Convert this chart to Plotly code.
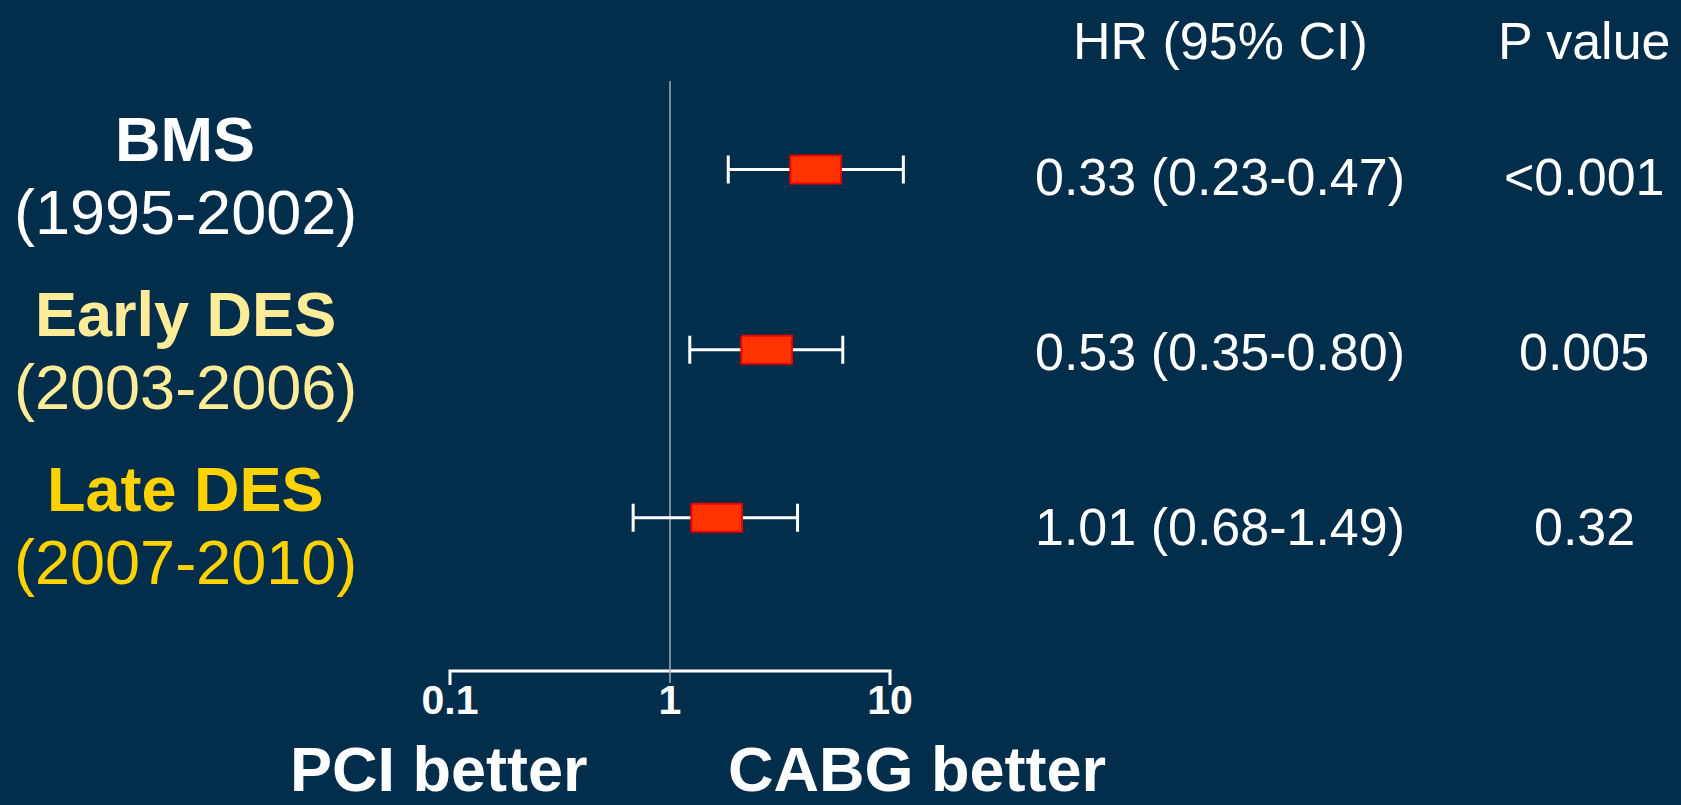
import numpy as np
import plotly.graph_objects as go

# ---------------- data ----------------
groups = ["BMS", "Early DES", "Late DES"]
periods = ["(1995-2002)", "(2003-2006)", "(2007-2010)"]
group_colors = ["#FFFFFF", "#FFEC99", "#FFD200"]
hr_text = ["0.33 (0.23-0.47)", "0.53 (0.35-0.80)", "1.01 (0.68-1.49)"]
p_text = ["<0.001", "0.005", "0.32"]
# positions of the plotted marks as drawn on the slide (log scale)
est = [4.59, 2.75, 1.63]
ci_lo = [1.84, 1.23, 0.68]
ci_hi = [11.5, 6.1, 3.8]
rows = [1, 2, 3]
marker_rows = [0.96, 1.99, 2.95]
tick_vals = [0.1, 1, 10]
tick_labels = ["0.1", "1", "10"]

# ---------------- style ----------------
BG = "#022E4C"
FONT = "Liberation Sans, Arial, Helvetica, sans-serif"
W, H = 1681, 805
BOX_HALF_LOG = 0.115
BOX_HALF_H = 0.08

est_a = np.array(est)
lo_a = np.array(ci_lo)
hi_a = np.array(ci_hi)

fig = go.Figure()

# axis bracket
AX_Y = 3.826
TICK_Y = 3.906
fig.add_trace(go.Scatter(
    x=[tick_vals[0], tick_vals[0], tick_vals[-1], tick_vals[-1]],
    y=[TICK_Y, AX_Y, AX_Y, TICK_Y],
    mode="lines", line=dict(color="white", width=3),
    hoverinfo="skip", showlegend=False))

# reference line at HR = 1
fig.add_trace(go.Scatter(
    x=[1, 1], y=[0.454, 3.894], mode="lines",
    line=dict(color="#A3ABB3", width=1.5),
    hoverinfo="skip", showlegend=False))

# whiskers
fig.add_trace(go.Scatter(
    x=est_a, y=marker_rows, mode="markers",
    marker=dict(size=1, color="rgba(0,0,0,0)"),
    error_x=dict(type="data", symmetric=False,
                 array=hi_a - est_a, arrayminus=est_a - lo_a,
                 color="white", thickness=3, width=14),
    hoverinfo="skip", showlegend=False))

# boxes
for e, r in zip(est, marker_rows):
    bl = e * 10 ** (-BOX_HALF_LOG)
    bh = e * 10 ** (BOX_HALF_LOG)
    fig.add_trace(go.Scatter(
        x=[bl, bh, bh, bl, bl],
        y=[r - BOX_HALF_H, r - BOX_HALF_H, r + BOX_HALF_H, r + BOX_HALF_H, r - BOX_HALF_H],
        mode="lines", fill="toself", fillcolor="#FF3300",
        line=dict(color="#F00000", width=2),
        hoverinfo="skip", showlegend=False))

# tick labels
fig.add_trace(go.Scatter(
    x=tick_vals, y=[4.01] * len(tick_vals), mode="text",
    text=tick_labels, textposition="middle center",
    textfont=dict(family=FONT, size=41, color="white", weight="bold"),
    hoverinfo="skip", showlegend=False, cliponaxis=False))

annotations = []
def ann(text, x, y, size, color="white", yref="y", yanchor="middle"):
    annotations.append(dict(text=text, x=x, y=y, xref="paper", yref=yref,
                            xanchor="center", yanchor=yanchor, showarrow=False,
                            borderpad=0,
                            font=dict(family=FONT, size=size, color=color)))

# headers
ann("HR (95% CI)", 1220 / W, 0.226, 52)
ann("P value", 1584 / W, 0.226, 52)

for g, p, c, r, h, pv in zip(groups, periods, group_colors, rows, hr_text, p_text):
    ann("<b>" + g + "</b>", 185 / W, r - 0.215, 63, c)
    ann(p, 185 / W, r + 0.205, 63, c)
    ann(h, 1220 / W, r, 52)
    ann(pv, 1584 / W, r, 52)

ann("<b>PCI better</b>", 438.5 / W, 0, 63, yref="paper", yanchor="bottom")
ann("<b>CABG better</b>", 916.5 / W, 0, 63, yref="paper", yanchor="bottom")

x_left = -670 / 220
x_right = (W - 670) / 220
y_top = 1 - 176.5 / 175
y_bot = 1 + (H - 176.5) / 175

fig.update_layout(
    width=W, height=H,
    margin=dict(l=0, r=0, t=0, b=0),
    paper_bgcolor=BG, plot_bgcolor=BG,
    xaxis=dict(type="log", range=[x_left, x_right], visible=False, fixedrange=True),
    yaxis=dict(range=[y_bot, y_top], visible=False, fixedrange=True),
    annotations=annotations,
    showlegend=False,
)

fig.write_html("out.html", config={"displayModeBar": False},
               post_script="document.body.style.margin='0';document.body.style.background='" + BG + "';")
